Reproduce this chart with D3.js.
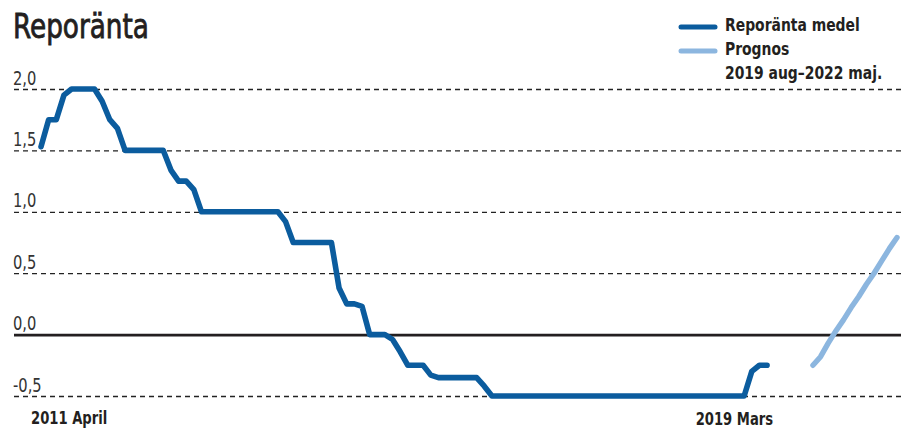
<!DOCTYPE html>
<html>
<head>
<meta charset="utf-8">
<script src="https://cdn.jsdelivr.net/npm/d3@7"></script>
<style>
  html, body { margin: 0; padding: 0; background: #fff; }
  svg { display: block; }
  text { font-family: "DejaVu Sans Condensed", "Liberation Sans Narrow", sans-serif; }
</style>
</head>
<body>
<svg id="chart" width="901" height="428"></svg>
<script>
// Monthly average repo rate, April 2011 – March 2019 (one value per month)
const repoMonthly = [
  1.53, 1.75, 1.75, 1.95, 2.0, 2.0, 2.0, 2.0, 1.9,                          // 2011 apr–dec
  1.75, 1.68, 1.5, 1.5, 1.5, 1.5, 1.5, 1.5, 1.34, 1.25, 1.25, 1.18,         // 2012
  1.0, 1.0, 1.0, 1.0, 1.0, 1.0, 1.0, 1.0, 1.0, 1.0, 1.0, 0.92,              // 2013
  0.75, 0.75, 0.75, 0.75, 0.75, 0.75, 0.38, 0.25, 0.25, 0.23, 0.0, 0.0,     // 2014
  0.0, -0.04, -0.14, -0.25, -0.25, -0.25, -0.33, -0.35, -0.35, -0.35, -0.35, -0.35, // 2015
  -0.35, -0.42, -0.5, -0.5, -0.5, -0.5, -0.5, -0.5, -0.5, -0.5, -0.5, -0.5, // 2016
  -0.5, -0.5, -0.5, -0.5, -0.5, -0.5, -0.5, -0.5, -0.5, -0.5, -0.5, -0.5,   // 2017
  -0.5, -0.5, -0.5, -0.5, -0.5, -0.5, -0.5, -0.5, -0.5, -0.5, -0.5, -0.5,   // 2018
  -0.30, -0.25, -0.25                                                       // 2019 jan–mar
];
const firstLabel = "2011 April";
const lastLabel = "2019 Mars";

// Forecast, quarterly steps from 2019 aug to 2022 maj
const forecastPeriods = ["2019 aug", "2019 nov", "2020 feb", "2020 maj", "2020 aug", "2020 nov",
                         "2021 feb", "2021 maj", "2021 aug", "2021 nov", "2022 feb", "2022 maj"];
const forecastValues = [-0.25, -0.18, -0.07, 0.03, 0.12, 0.22, 0.31, 0.41, 0.50, 0.60, 0.70, 0.79];
const gapSlots = 5; // empty steps between last outcome and first forecast point

const yTicks = [-0.5, 0.0, 0.5, 1.0, 1.5, 2.0];
const legendItems = [
  { label: ["Reporänta medel"], color: "#0b5c9e" },
  { label: ["Prognos", "2019 aug–2022 maj."], color: "#8cb6df" }
];

const colorMain = "#0b5c9e";
const colorForecast = "#8cb6df";
const inkColor = "#231f20";
const narrow = 0.86; // horizontal squeeze for a narrow typeface look

const svg = d3.select("#chart");

// Draws a horizontally condensed text label
function label(parent, x, y, str, opts = {}) {
  const g = parent.append("g").attr("transform", `translate(${x},${y}) scale(${narrow},1)`);
  const t = g.append("text")
    .attr("x", 0).attr("y", 0)
    .attr("text-anchor", opts.anchor || "start")
    .attr("font-size", opts.size || 16)
    .attr("font-weight", opts.weight || "normal")
    .attr("fill", opts.color || inkColor)
    .text(str);
  if (opts.thicken) {
    t.attr("stroke", opts.color || inkColor).attr("stroke-width", opts.thicken);
  }
  return t;
}

const outcome = repoMonthly.map((v, i) => ({ i, v }));
const forecastStart = repoMonthly.length + gapSlots;
const forecast = forecastValues.map((v, j) => ({ i: forecastStart + j, v }));
const lastIndex = forecastStart + forecastValues.length - 1;

const x = d3.scaleLinear().domain([0, lastIndex]).range([41, 897]);
const y = d3.scaleLinear().domain([-0.5, 2.0]).range([396, 89]);

// Title
label(svg, 13, 38, "Reporänta", { size: 34, thicken: 0.8 });

// Horizontal grid and tick labels
const fmt = d => d3.format(".1f")(d).replace(".", ",").replace("\u2212", "-");
const yAxis = d3.axisLeft(y).tickValues(yTicks).tickSize(0).tickFormat("");
const gy = svg.append("g").call(yAxis);
gy.select(".domain").remove();
gy.selectAll(".tick text").remove();
gy.selectAll(".tick").each(function (d) {
  const t = d3.select(this);
  t.append("line")
    .attr("x1", 14).attr("x2", 901)
    .attr("y1", 0).attr("y2", 0)
    .attr("stroke", d === 0 ? "#231f20" : "#222")
    .attr("stroke-width", d === 0 ? 2.6 : 1.3)
    .attr("stroke-dasharray", d === 0 ? null : "5,4");
  label(t, 13, -5, fmt(d), { size: 19, color: "#333" });
});

const line = d3.line().x(d => x(d.i)).y(d => y(d.v));

svg.append("path")
  .datum(outcome)
  .attr("d", line)
  .attr("fill", "none")
  .attr("stroke", colorMain)
  .attr("stroke-width", 5.6)
  .attr("stroke-linejoin", "round")
  .attr("stroke-linecap", "round");

svg.append("path")
  .datum(forecast)
  .attr("d", line)
  .attr("fill", "none")
  .attr("stroke", colorForecast)
  .attr("stroke-width", 5.4)
  .attr("stroke-linejoin", "round")
  .attr("stroke-linecap", "round");

// Period labels under the outcome line
label(svg, x(0) - 10, 424, firstLabel, { size: 17, weight: "bold" });
label(svg, x(repoMonthly.length - 1) + 6, 425, lastLabel, { size: 17, weight: "bold", anchor: "end" });

// Legend
const legend = svg.append("g").attr("transform", "translate(681,27)");
let rowY = 0;
legendItems.forEach(item => {
  legend.append("line")
    .attr("x1", 0).attr("x2", 34)
    .attr("y1", rowY).attr("y2", rowY)
    .attr("stroke", item.color)
    .attr("stroke-width", 5)
    .attr("stroke-linecap", "round");
  item.label.forEach((s, k) => {
    label(legend, 44, rowY + 4 + k * 24, s, { size: 18, weight: "bold" });
  });
  rowY += 24 * item.label.length;
});
</script>
</body>
</html>
